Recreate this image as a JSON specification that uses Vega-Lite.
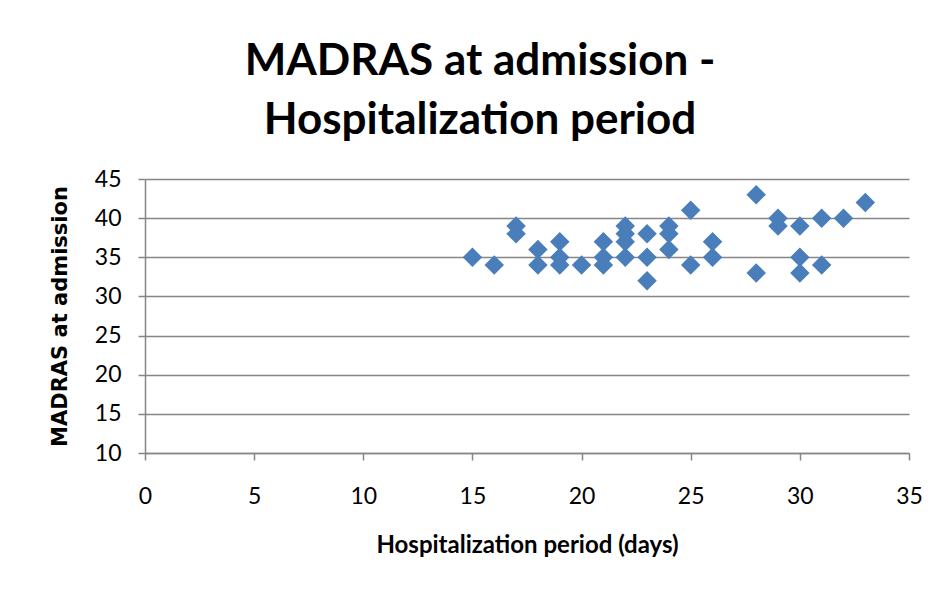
{
  "$schema": "https://vega.github.io/schema/vega-lite/v6.json",
  "autosize": {"type": "none"},
  "width": 764,
  "height": 274,
  "padding": {"left": 145, "top": 179, "right": 31, "bottom": 138},
  "background": "white",
  "config": {
    "font": "Lato",
    "view": {"stroke": null},
    "axis": {
      "domainColor": "#868686",
      "tickColor": "#868686",
      "gridColor": "#868686",
      "domainWidth": 1.5,
      "tickWidth": 1.5,
      "gridWidth": 1.5,
      "labelFont": "Lato",
      "labelFontSize": 23,
      "labelColor": "#000000",
      "labelFlush": false,
      "titleFont": "Lato",
      "titleFontWeight": "bold",
      "titleFontSize": 24,
      "titleColor": "#000000"
    }
  },
  "title": {
    "text": ["MADRAS at admission -", "Hospitalization period"],
    "font": "Lato",
    "fontSize": 44,
    "fontWeight": "bold",
    "color": "#000000",
    "anchor": "middle",
    "dx": -47,
    "offset": 25,
    "lineHeight": 59
  },
  "data": {
    "values": [
      {"days": 15, "madras": 35},
      {"days": 16, "madras": 34},
      {"days": 17, "madras": 39},
      {"days": 17, "madras": 38},
      {"days": 18, "madras": 36},
      {"days": 18, "madras": 34},
      {"days": 19, "madras": 37},
      {"days": 19, "madras": 35},
      {"days": 19, "madras": 34},
      {"days": 20, "madras": 34},
      {"days": 21, "madras": 37},
      {"days": 21, "madras": 35},
      {"days": 21, "madras": 34},
      {"days": 22, "madras": 39},
      {"days": 22, "madras": 38},
      {"days": 22, "madras": 37},
      {"days": 22, "madras": 35},
      {"days": 23, "madras": 38},
      {"days": 23, "madras": 35},
      {"days": 23, "madras": 32},
      {"days": 24, "madras": 39},
      {"days": 24, "madras": 38},
      {"days": 24, "madras": 36},
      {"days": 25, "madras": 41},
      {"days": 25, "madras": 34},
      {"days": 26, "madras": 37},
      {"days": 26, "madras": 35},
      {"days": 28, "madras": 43},
      {"days": 28, "madras": 33},
      {"days": 29, "madras": 40},
      {"days": 29, "madras": 39},
      {"days": 30, "madras": 39},
      {"days": 30, "madras": 35},
      {"days": 30, "madras": 33},
      {"days": 31, "madras": 40},
      {"days": 31, "madras": 34},
      {"days": 32, "madras": 40},
      {"days": 33, "madras": 42}
    ]
  },
  "mark": {"type": "point", "shape": "diamond", "filled": true, "size": 380, "color": "#4A7EBB", "opacity": 1},
  "encoding": {
    "x": {
      "field": "days",
      "type": "quantitative",
      "scale": {"domain": [0, 35], "nice": false, "zero": false},
      "axis": {
        "title": "Hospitalization period (days)",
        "values": [0, 5, 10, 15, 20, 25, 30, 35],
        "grid": false,
        "tickSize": 7,
        "labelPadding": 25,
        "titlePadding": 25
      }
    },
    "y": {
      "field": "madras",
      "type": "quantitative",
      "scale": {"domain": [10, 45], "nice": false, "zero": false},
      "axis": {
        "title": "MADRAS at admission",
        "titleFont": "DejaVu Sans",
        "titleFontSize": 21,
        "values": [10, 15, 20, 25, 30, 35, 40, 45],
        "grid": true,
        "tickSize": 7,
        "labelPadding": 17,
        "titlePadding": 24
      }
    }
  }
}
